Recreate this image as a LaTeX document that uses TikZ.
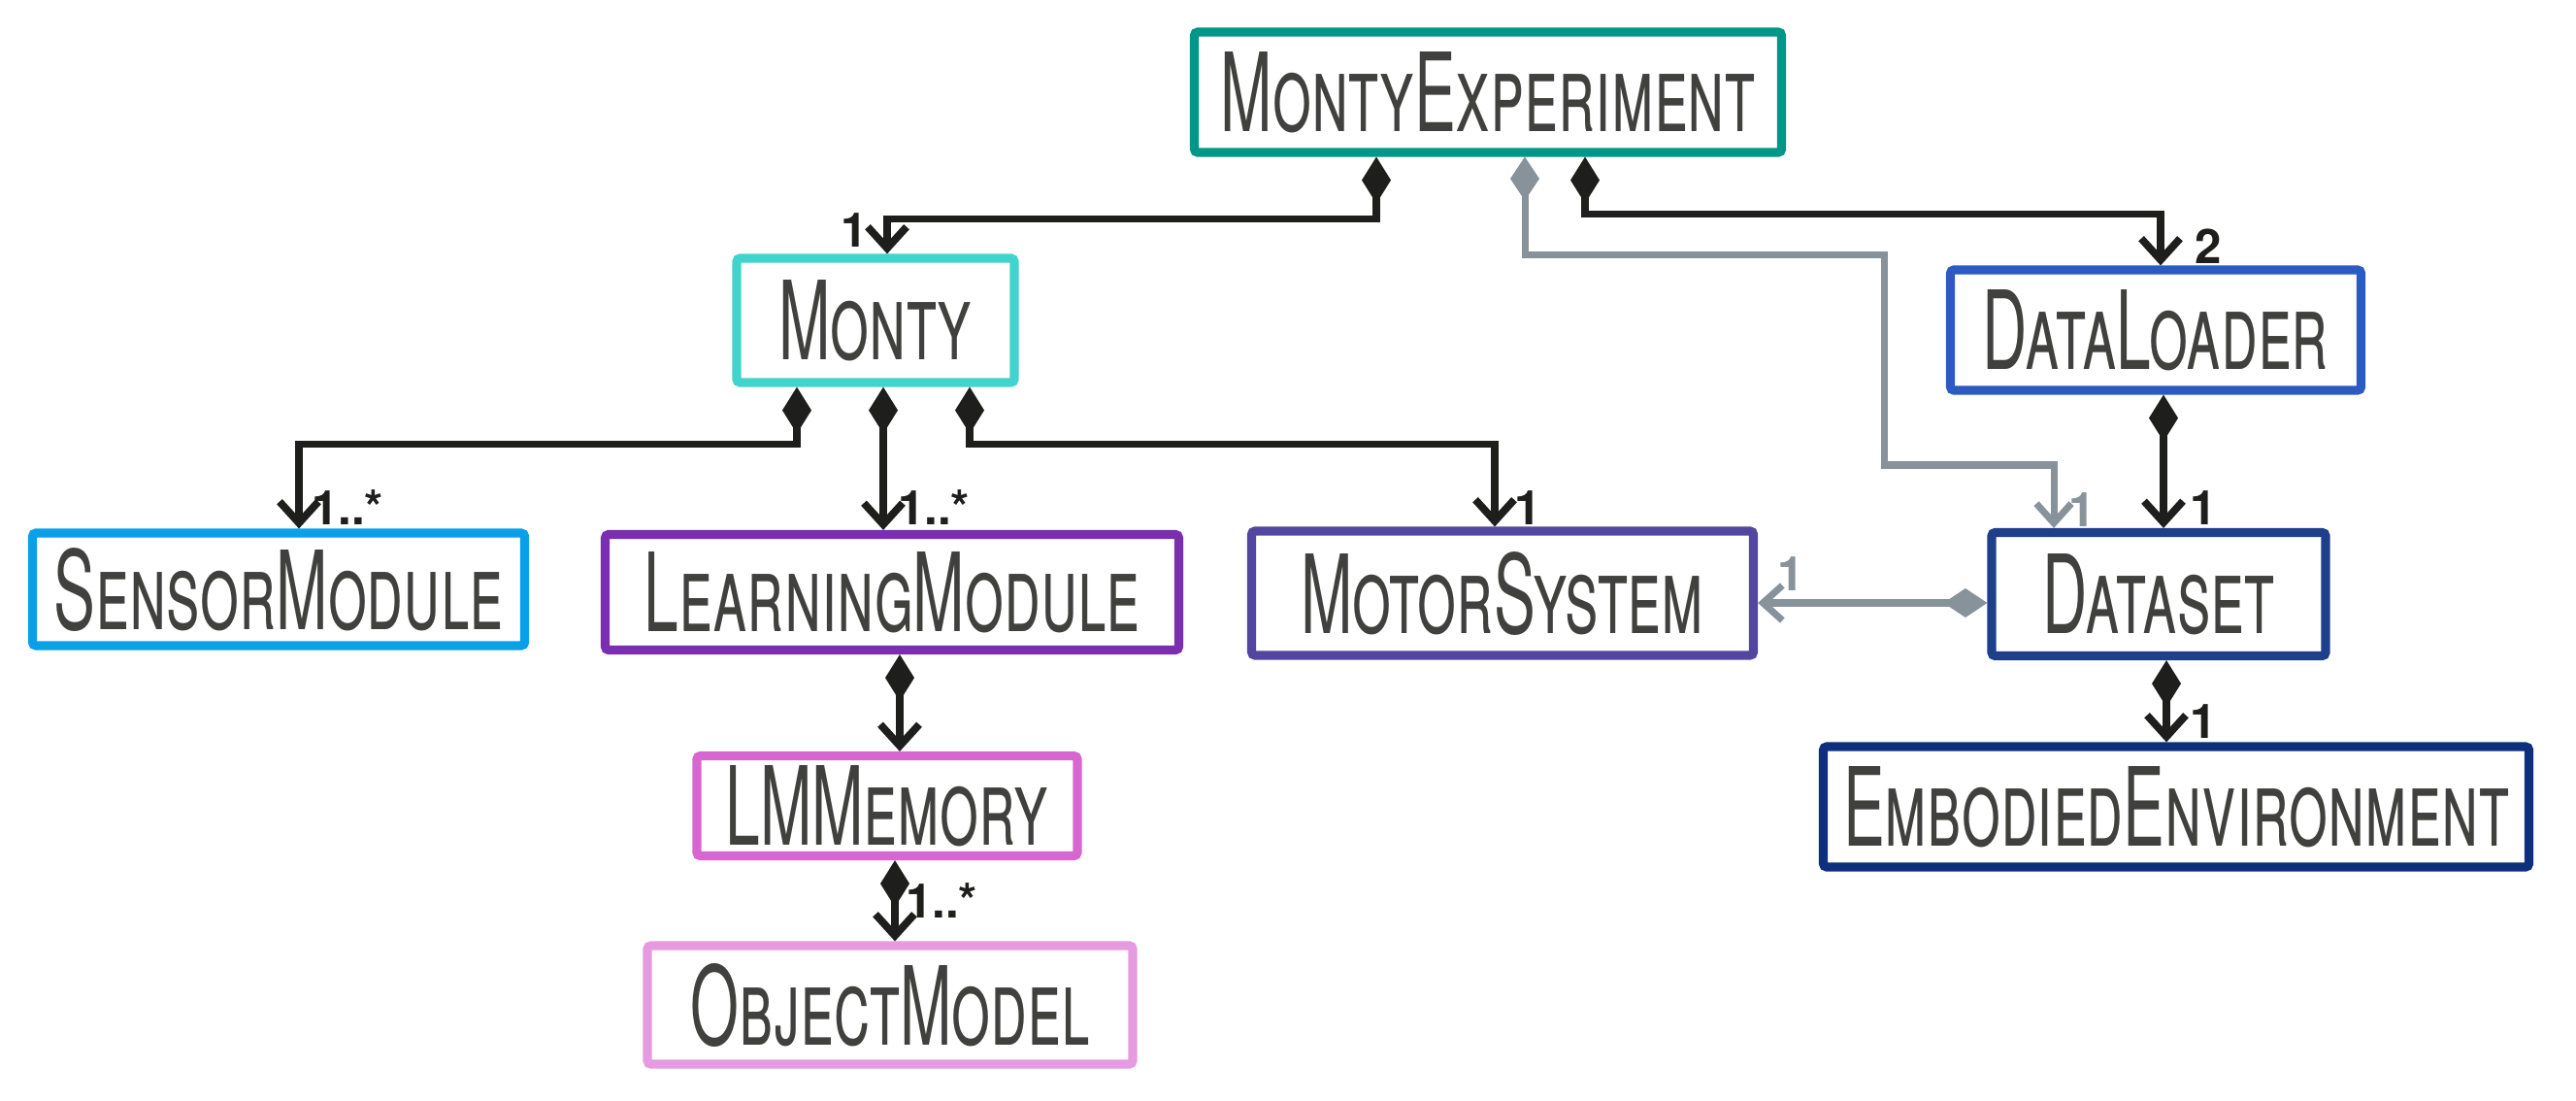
\documentclass[tikz,border=0pt]{standalone}
\usepackage{fontspec}
\newfontfamily\clsfont{TeX Gyre Heros}[Letters=SmallCaps,FakeStretch=0.57]
\newfontfamily\multfont{TeX Gyre Heros}
\usepackage{tikz}
\usetikzlibrary{arrows.meta,positioning,calc}

\definecolor{ink}{RGB}{30,30,28}
\definecolor{cGray}{RGB}{135,146,155}
\definecolor{cExp}{RGB}{0,150,136}
\definecolor{cMonty}{RGB}{64,212,204}
\definecolor{cLoader}{RGB}{43,91,194}
\definecolor{cSensor}{RGB}{10,160,232}
\definecolor{cLearn}{RGB}{122,47,176}
\definecolor{cMotor}{RGB}{82,70,160}
\definecolor{cData}{RGB}{31,63,138}
\definecolor{cEnv}{RGB}{14,47,126}
\definecolor{cMem}{RGB}{215,102,208}
\definecolor{cObj}{RGB}{230,154,223}

\begin{document}
\begin{tikzpicture}[
  cls/.style ={rectangle,line width=2.6pt,fill=white,inner sep=0pt,rounded corners=1pt,
               font=\clsfont\fontsize{32}{36}\selectfont,text=ink!85},
  comp/.style={{Diamond[length=0.48cm,width=0.3cm]}-{Straight Barb[length=0.22cm,width=0.4cm]},
               line width=2.2pt,draw=ink},
  agg/.style ={{Diamond[length=0.45cm,width=0.3cm]}-{Straight Barb[length=0.2cm,width=0.36cm]},
               line width=2pt,draw=cGray},
  mult/.style={font=\multfont\fontsize{14}{15}\selectfont\bfseries,text=ink,inner sep=0pt}
]
\useasboundingbox (0,0) rectangle (26.54,11.33);
\node[cls,draw=cExp,   minimum width=6.05cm,minimum height=1.24cm](mexp)    at (15.33,10.38){MontyExperiment};
\node[cls,draw=cMonty, minimum width=2.86cm,minimum height=1.28cm](monty)   at (9.02,8.03) {Monty};
\node[cls,draw=cLoader,minimum width=4.23cm,minimum height=1.24cm](loader)  at (22.21,7.93){DataLoader};
\node[cls,draw=cSensor,minimum width=5.07cm,minimum height=1.16cm](sensor)  at (2.87,5.26) {SensorModule};
\node[cls,draw=cLearn, minimum width=5.91cm,minimum height=1.19cm](learning)at (9.19,5.23) {LearningModule};
\node[cls,draw=cMotor, minimum width=5.17cm,minimum height=1.28cm](motor)   at (15.48,5.22){MotorSystem};
\node[cls,draw=cData,  minimum width=3.44cm,minimum height=1.27cm](dataset) at (22.24,5.21){Dataset};
\node[cls,draw=cMem,   minimum width=3.92cm,minimum height=1.03cm](memory)  at (9.14,3.03) {LMMemory};
\node[cls,draw=cObj,   minimum width=5.00cm,minimum height=1.22cm](objmodel)at (9.17,0.98) {ObjectModel};
\node[cls,draw=cEnv,   minimum width=7.27cm,minimum height=1.24cm](embodied)at (22.42,3.02){EmbodiedEnvironment};

% composition
\draw[comp]([xshift=-1.15cm]mexp.south) -- ++(0,-0.64) -| ([xshift=0.12cm]monty.north);
\draw[comp]([xshift=1.0cm]mexp.south) -- ++(0,-0.59) -| ([xshift=0.05cm]loader.north);
\draw[comp]([xshift=-0.81cm]monty.south) -- ++(0,-0.59) -| ([xshift=0.21cm]sensor.north);
\draw[comp]([xshift=0.97cm]monty.south) -- ++(0,-0.59) -| ([xshift=-0.08cm]motor.north);
\foreach \a/\b in {monty/learning,loader/dataset,learning/memory,memory/objmodel,dataset/embodied}
  \draw[comp]([xshift=0.08cm]\a.south) -- ([xshift=0.08cm]\a.south |- \b.north);

% aggregation (grey)
\coordinate (bend) at (19.41,6.54);
\draw[agg]([xshift=0.38cm]mexp.south) -- ++(0,-1.01) -| (bend) -| ([xshift=-1.08cm]dataset.north);
\draw[agg]([yshift=-0.09cm]dataset.west) -- ([yshift=-0.09cm]dataset.west -| motor.east);

% multiplicities
\node[mult] (n1) at (8.80,8.96) {1};
\node[mult] (n2) at (22.75,8.79){2};
\node[mult,text=cGray] (n3) at (21.45,6.08){1};
\node[mult] (n4) at (3.58,6.1) {1..*};
\node[mult] (n5) at (9.62,6.1) {1..*};
\node[mult] (n6) at (15.74,6.1){1};
\node[mult] (n7) at (22.7,6.1){1};
\node[mult,text=cGray] (n8) at (18.45,5.42){1};
\node[mult] (n9) at (9.7,2.05) {1..*};
\node[mult] (n10) at (22.7,3.9){1};
\end{tikzpicture}
\end{document}
